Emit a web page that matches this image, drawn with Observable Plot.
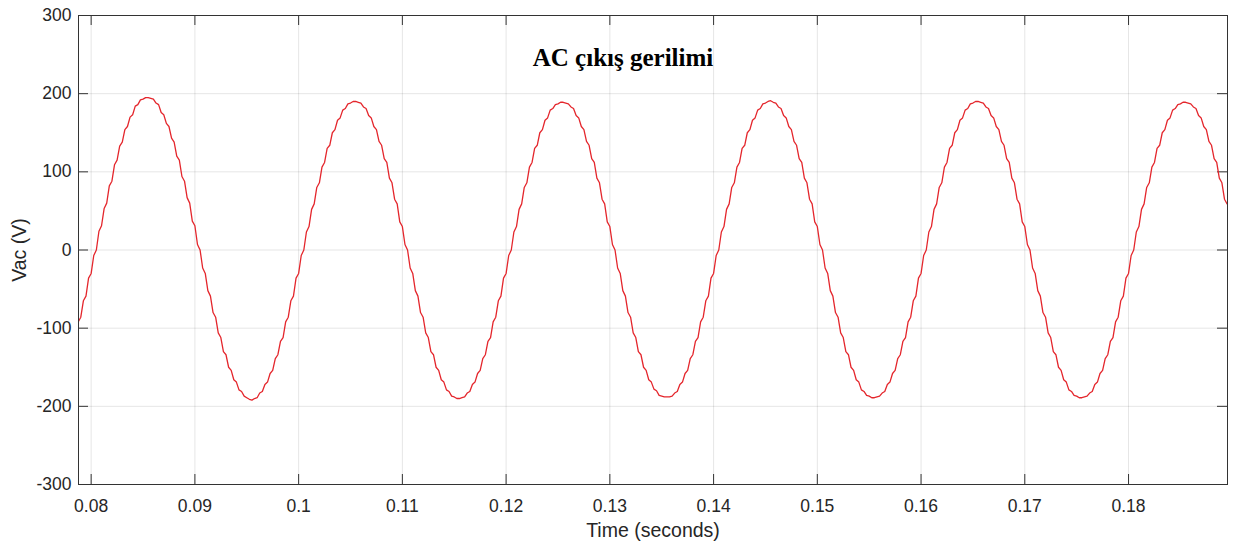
<!DOCTYPE html>
<html>
<head>
<meta charset="utf-8">
<script src="https://cdn.jsdelivr.net/npm/d3@7"></script>
<script src="https://cdn.jsdelivr.net/npm/@observablehq/plot@0.6"></script>
<style>
  html, body { margin: 0; padding: 0; background: #fff; }
  #chart svg { display: block; }
</style>
</head>
<body>
<div id="chart"></div>
<script>
// Chart text
const title = "AC çıkış gerilimi";
const xLabel = "Time (seconds)";
const yLabel = "Vac (V)";

// Tick values
const xTicks = [0.08, 0.09, 0.1, 0.11, 0.12, 0.13, 0.14, 0.15, 0.16, 0.17, 0.18];
const yTicks = [-300, -200, -100, 0, 100, 200, 300];

// Sampling of the waveform (seconds)
const t0 = 0.07875;
const dt = 0.00025;

// Output voltage samples (V)
const vac = [
-92,-86,-65,-59,-36,-30,-7,
0,24,31,53,60,82,88,109,115,133,138,154,158,170,173,184,186,192,193,195,195,194,193,188,186,176,173,162,158,143,138,120,115,94,88,67,60,37,31,7,
0,-23,-30,-52,-59,-80,-86,-106,-112,-130,-134,-150,-154,-166,-169,-179,-181,-187,-189,-191,-192,-190,-189,-183,-181,-172,-169,-158,-154,-139,-134,-117,-112,-92,-86,-65,-59,-36,-30,-7,
0,23,30,52,59,80,86,106,112,130,134,150,154,166,169,179,181,187,188,190,190,189,188,183,181,172,169,158,154,139,134,117,112,92,86,65,59,36,30,7,
0,-23,-30,-52,-59,-80,-86,-106,-112,-130,-134,-150,-154,-166,-169,-179,-181,-187,-188,-190,-190,-189,-188,-183,-181,-172,-169,-158,-154,-139,-134,-117,-112,-92,-86,-65,-59,-36,-30,-7,
0,23,30,52,59,80,86,106,112,130,134,150,154,166,169,179,181,186,187,189,189,188,187,183,181,172,169,158,154,139,134,117,112,92,86,65,59,36,30,7,
0,-23,-30,-52,-59,-80,-86,-106,-112,-130,-134,-150,-154,-166,-169,-178,-180,-186,-187,-188,-188,-188,-187,-183,-181,-172,-169,-158,-154,-139,-134,-117,-112,-92,-86,-65,-59,-36,-30,-7,
0,23,30,52,59,80,86,106,112,130,134,150,154,166,169,179,181,187,188,190,191,189,188,183,181,172,169,158,154,139,134,117,112,92,86,65,59,36,30,7,
0,-23,-30,-52,-59,-80,-86,-106,-112,-130,-134,-150,-154,-166,-169,-179,-181,-186,-187,-189,-189,-188,-187,-183,-181,-172,-169,-158,-154,-139,-134,-117,-112,-92,-86,-65,-59,-36,-30,-7,
0,23,30,52,59,80,86,106,112,130,134,150,154,166,169,179,181,187,188,190,190,189,188,183,181,172,169,158,154,139,134,117,112,92,86,65,59,36,30,7,
0,-23,-30,-52,-59,-80,-86,-106,-112,-130,-134,-150,-154,-166,-169,-179,-181,-186,-187,-189,-189,-188,-187,-183,-181,-172,-169,-158,-154,-139,-134,-117,-112,-92,-86,-65,-59,-36,-30,-7,
0,23,30,52,59,80,86,106,112,130,134,150,154,166,169,179,181,186,187,189,189,188,187,183,181,172,169,158,154,139,134,117,112,92,86,65,59
];

const data = vac.map((v, i) => ({t: t0 + i * dt, v}));

const W = 1240, H = 546;
const mL = 78, mR = 13, mT = 15, mB = 62;
const fw = W - mL - mR, fh = H - mT - mB;
const tick = 10;
const fmt = d => String(d);

const chart = Plot.plot({
  width: W,
  height: H,
  marginLeft: mL,
  marginRight: mR,
  marginTop: mT,
  marginBottom: mB,
  style: {fontFamily: "'Liberation Sans', Arial, sans-serif", fontSize: "17.5px", color: "#262626", background: "#fff"},
  x: {domain: [0.07878, 0.18954], label: null},
  y: {domain: [-300, 300], label: null},
  marks: [
    Plot.gridX(xTicks, {stroke: "#000", strokeOpacity: 0.1}),
    Plot.gridY(yTicks, {stroke: "#000", strokeOpacity: 0.1}),
    // inward ticks on all four sides
    Plot.gridX(xTicks, {stroke: "#333", strokeOpacity: 1, insetTop: fh - tick}),
    Plot.gridX(xTicks, {stroke: "#333", strokeOpacity: 1, insetBottom: fh - tick}),
    Plot.gridY(yTicks, {stroke: "#333", strokeOpacity: 1, insetRight: fw - tick}),
    Plot.gridY(yTicks, {stroke: "#333", strokeOpacity: 1, insetLeft: fw - tick}),
    Plot.axisX(xTicks, {tickSize: 0, tickPadding: 15, tickFormat: fmt, fontSize: 17.5, fill: "#262626"}),
    Plot.axisY(yTicks, {tickSize: 0, tickPadding: 7, tickFormat: fmt, fontSize: 17.5, fill: "#262626"}),
    Plot.line(data, {x: "t", y: "v", stroke: "#e4262c", strokeWidth: 1.3, clip: true}),
    Plot.frame({stroke: "#333", strokeWidth: 1}),
    Plot.text([title], {frameAnchor: "top", lineAnchor: "bottom", dy: 50, dx: -30,
      fontFamily: "'Liberation Serif', 'Times New Roman', serif", fontWeight: "bold", fontSize: 25, fill: "#000"}),
    Plot.text([xLabel], {frameAnchor: "bottom", lineAnchor: "bottom", dy: 52, fontSize: 19.5, fill: "#262626"}),
    Plot.text([yLabel], {frameAnchor: "left", textAnchor: "middle", lineAnchor: "middle", rotate: -90, dx: -59, fontSize: 19.5, fill: "#262626"})
  ]
});

document.getElementById("chart").appendChild(chart);
</script>
</body>
</html>
